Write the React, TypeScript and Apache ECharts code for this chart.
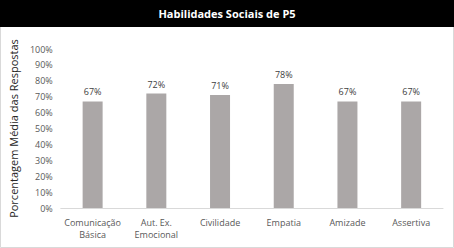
import React, { useEffect, useRef } from "react";
import * as echarts from "echarts";

const titleText = "Habilidades Sociais de P5";
const yAxisName = "Porcentagem Média das Respostas";
const categories = ["Comunicação\nBásica", "Aut. Ex.\nEmocional", "Civilidade", "Empatia", "Amizade", "Assertiva"];
const values = [0.67, 0.72, 0.71, 0.78, 0.67, 0.67];

export default function App() {
  const ref = useRef<HTMLDivElement>(null);
  useEffect(() => {
    document.body.style.margin = "0";
    const chart = echarts.init(ref.current!, null, { renderer: "svg" });
    const font = "'Open Sans', 'Liberation Sans', sans-serif";
    chart.setOption({
      animation: false,
      backgroundColor: "#ffffff",
      graphic: [
        {
          type: "rect",
          shape: { x: 0.5, y: 0.5, width: 453, height: 247 },
          style: { fill: "none", stroke: "#d9d9d9", lineWidth: 1 },
          z: 0,
        },
        {
          type: "rect",
          shape: { x: 0, y: 0, width: 454, height: 27 },
          style: { fill: "#000000" },
          z: 1,
        },
        {
          type: "text",
          x: 227,
          y: 13.5,
          style: {
            text: titleText,
            fill: "#ffffff",
            font: `bold 11px ${font}`,
            align: "center",
            verticalAlign: "middle",
          },
          z: 2,
        },
      ],
      grid: { left: 57, right: 11, top: 49, bottom: 40, containLabel: false },
      xAxis: {
        type: "category",
        data: categories,
        axisLine: { show: true, lineStyle: { color: "#d9d9d9", width: 1 } },
        axisTick: { show: false },
        axisLabel: {
          color: "#595959",
          fontSize: 9,
          fontFamily: font,
          lineHeight: 12,
          margin: 8,
          interval: 0,
        },
      },
      yAxis: {
        type: "value",
        min: 0,
        max: 1,
        interval: 0.1,
        name: yAxisName,
        nameLocation: "middle",
        nameGap: 38,
        nameTextStyle: { color: "#262626", fontSize: 11, fontFamily: font },
        axisLine: { show: false },
        axisTick: { show: false },
        splitLine: { show: false },
        axisLabel: {
          color: "#595959",
          fontSize: 9,
          fontFamily: font,
          margin: 8,
          formatter: (v: number) => `${Math.round(v * 100)}%`,
        },
      },
      series: [
        {
          type: "bar",
          data: values,
          barWidth: 20,
          itemStyle: { color: "#aba7a7" },
          label: {
            show: true,
            position: "top",
            distance: 5,
            color: "#404040",
            fontSize: 9,
            fontFamily: font,
            formatter: (p: any) => `${Math.round(p.value * 100)}%`,
          },
        },
      ],
    });
    return () => chart.dispose();
  }, []);
  return <div ref={ref} style={{ position: "absolute", left: 0, top: 0, width: 454, height: 248 }} />;
}
